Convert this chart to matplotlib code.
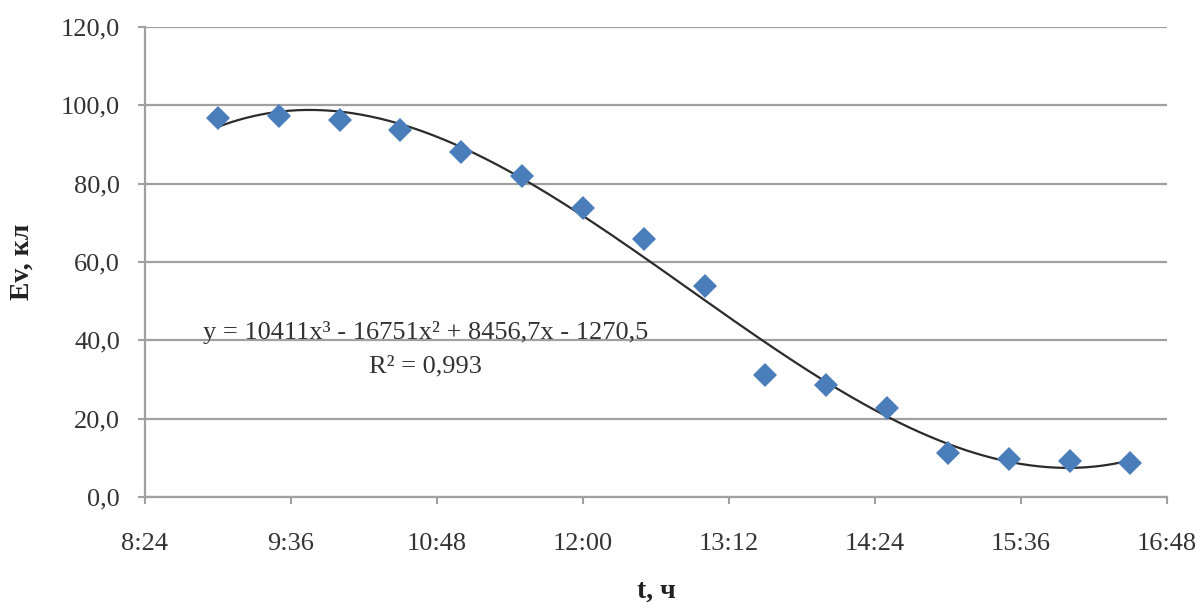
import numpy as np
import matplotlib
matplotlib.use("Agg")
import matplotlib.pyplot as plt
from matplotlib.ticker import FuncFormatter, FixedLocator

# measurement times (hh:mm) and values
times = ["9:00", "9:30", "10:00", "10:30", "11:00", "11:30", "12:00", "12:30",
         "13:00", "13:30", "14:00", "14:30", "15:00", "15:30", "16:00", "16:30"]
ev = [96.8, 97.3, 96.2, 93.7, 88.1, 82.0, 73.8, 65.9,
      53.9, 31.1, 28.6, 22.7, 11.2, 9.7, 9.2, 8.7]
tick_times = ["8:24", "9:36", "10:48", "12:00", "13:12", "14:24", "15:36", "16:48"]
y_ticks = [0, 20, 40, 60, 80, 100, 120]
equation = "y = 10411x³ - 16751x² + 8456,7x - 1270,5"
r2_text = "R² = 0,993"


def to_day(s):
    h, m = s.split(":")
    return (int(h) * 60 + int(m)) / 1440.0


def fmt_time(v, pos):
    mins = int(round(v * 1440))
    return "%d:%02d" % (mins // 60, mins % 60)


def main():
    plt.rcParams['font.family'] = ['Liberation Serif', 'DejaVu Serif']
    x = np.array([to_day(t) for t in times])
    y = np.array(ev)
    xt = [to_day(t) for t in tick_times]

    fig = plt.figure(figsize=(12.03, 6.12), dpi=100)
    ax = fig.add_axes([0.1205, 0.188, 0.8495, 0.768])

    # cubic trend line like the spreadsheet one
    coef = np.polyfit(x, y, 3)
    xs = np.linspace(x.min(), x.max(), 300)
    ax.plot(xs, np.polyval(coef, xs), color='#2b2b2b', lw=1.6, zorder=3)
    ax.plot(x, y, 'D', color='#4a7ebb', markersize=12.5, markeredgewidth=0, zorder=4)

    ax.set_xlim(xt[0], xt[-1])
    ax.set_ylim(0, 120)
    ax.xaxis.set_major_locator(FixedLocator(xt))
    ax.xaxis.set_major_formatter(FuncFormatter(fmt_time))
    ax.yaxis.set_major_locator(FixedLocator(y_ticks))
    ax.yaxis.set_major_formatter(FuncFormatter(lambda v, p: ("%.1f" % v).replace(".", ",")))

    ax.grid(axis='y', color='#a0a0a0', lw=1.6)
    ax.set_axisbelow(True)
    for s in ['top', 'right']:
        ax.spines[s].set_visible(False)
    for s in ['left', 'bottom']:
        ax.spines[s].set_color('#a0a0a0')
        ax.spines[s].set_linewidth(1.6)
    ax.tick_params(axis='both', colors='#a0a0a0', labelcolor='#333333',
                   labelsize=19, length=5, width=1.5)
    ax.tick_params(axis='x', pad=21)
    ax.tick_params(axis='y', pad=13)

    ax.set_xlabel("t, ч", fontsize=20, fontweight='bold', color='#222222', labelpad=17)
    ax.set_ylabel("Ev, кл", fontsize=20, fontweight='bold', color='#222222', labelpad=19)

    ax.text(0.2745, 40.4, equation, fontsize=19, color='#333333',
            ha='center', va='baseline', transform=ax.get_yaxis_transform())
    ax.text(0.2745, 31.7, r2_text, fontsize=19, color='#333333',
            ha='center', va='baseline', transform=ax.get_yaxis_transform())

    fig.savefig("out.png", dpi=100, facecolor='white')


if __name__ == '__main__':
    main()
